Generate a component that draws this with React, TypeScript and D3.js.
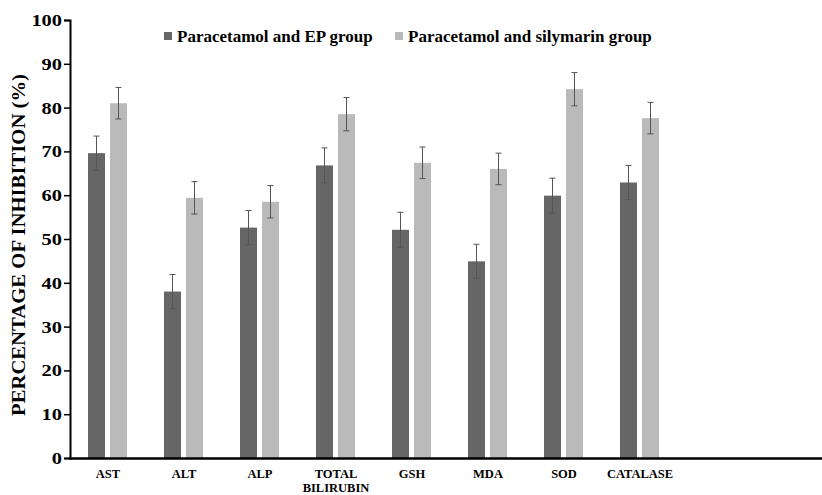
import * as d3 from "d3";
import { useRef, useEffect } from "react";

const categories = ["AST", "ALT", "ALP", "TOTAL BILIRUBIN", "GSH", "MDA", "SOD", "CATALASE"];
const epGroup = [69.6, 38.0, 52.6, 66.8, 52.1, 44.9, 59.9, 62.9];
const epErr = [3.9, 3.9, 3.9, 4.0, 4.0, 3.9, 4.0, 3.9];
const silyGroup = [81.0, 59.4, 58.5, 78.5, 67.4, 66.0, 84.2, 77.6];
const silyErr = [3.6, 3.7, 3.7, 3.8, 3.6, 3.6, 3.8, 3.6];
const seriesNames = ["Paracetamol and EP group", "Paracetamol and silymarin group"];
const yTicks = [0, 10, 20, 30, 40, 50, 60, 70, 80, 90, 100];

const W = 822, H = 495;
const colors = ["#666666", "#bababa"];
const font = "'Liberation Serif', 'Times New Roman', serif";

export default function App() {
  const ref = useRef(null);

  useEffect(() => {
    const svg = d3.select(ref.current);
    svg.selectAll("*").remove();

    const left = 70, top = 20, bottom = 458;
    const x = d3.scaleBand().domain(categories).range([left, left + 76 * 8]);
    const y = d3.scaleLinear().domain([0, 100]).range([bottom, top]);

    // y axis
    const ya = svg.append("g").attr("transform", `translate(${left},0)`)
      .call(d3.axisLeft(y).tickValues(yTicks).tickSize(6).tickPadding(3));
    ya.select(".domain").attr("stroke", "#000").attr("stroke-width", 2);
    ya.selectAll(".tick line").attr("stroke", "#000").attr("stroke-width", 1.5);
    ya.selectAll(".tick text")
      .attr("x", 0)
      .attr("transform", "translate(-8,0) scale(1.2,1)")
      .attr("font-family", font).attr("font-weight", "bold")
      .attr("font-size", 17).attr("fill", "#000");

    svg.append("text")
      .attr("transform", `translate(25,${245}) rotate(-90)`)
      .attr("text-anchor", "middle")
      .attr("textLength", 342).attr("lengthAdjust", "spacingAndGlyphs")
      .attr("font-family", font).attr("font-weight", "bold").attr("font-size", 18)
      .text("PERCENTAGE OF INHIBITION (%)");

    const rows = categories.map((c, i) => ({
      c,
      vals: [
        { v: epGroup[i], e: epErr[i], k: 0 },
        { v: silyGroup[i], e: silyErr[i], k: 1 },
      ],
    }));

    const barW = 17;
    const off = [-20, 2];

    const g = svg.append("g").selectAll("g").data(rows).join("g")
      .attr("transform", d => `translate(${x(d.c) + x.bandwidth() / 2},0)`);

    g.selectAll("rect").data(d => d.vals).join("rect")
      .attr("x", d => off[d.k])
      .attr("y", d => y(d.v))
      .attr("width", barW)
      .attr("height", d => y(0) - y(d.v))
      .attr("fill", d => colors[d.k]);

    const eb = g.selectAll("g.err").data(d => d.vals).join("g").attr("class", "err")
      .attr("stroke", "#555").attr("stroke-width", 1);
    eb.append("line")
      .attr("x1", d => off[d.k] + barW / 2).attr("x2", d => off[d.k] + barW / 2)
      .attr("y1", d => y(d.v + d.e)).attr("y2", d => y(d.v - d.e));
    eb.append("line")
      .attr("x1", d => off[d.k] + barW / 2 - 3).attr("x2", d => off[d.k] + barW / 2 + 3)
      .attr("y1", d => y(d.v + d.e)).attr("y2", d => y(d.v + d.e));
    eb.append("line")
      .attr("x1", d => off[d.k] + barW / 2 - 3).attr("x2", d => off[d.k] + barW / 2 + 3)
      .attr("y1", d => y(d.v - d.e)).attr("y2", d => y(d.v - d.e));

    // x axis line
    svg.append("line")
      .attr("x1", left - 1).attr("x2", 822)
      .attr("y1", bottom + 0.5).attr("y2", bottom + 0.5)
      .attr("stroke", "#000").attr("stroke-width", 2.5);

    // x labels
    svg.append("g").selectAll("text").data(categories).join("text")
      .attr("x", d => x(d) + x.bandwidth() / 2)
      .attr("y", 478)
      .attr("text-anchor", "middle")
      .attr("font-family", font).attr("font-weight", "bold").attr("font-size", 12.5)
      .each(function (d) {
        const words = d === "TOTAL BILIRUBIN" ? ["TOTAL", "BILIRUBIN"] : [d];
        d3.select(this).selectAll("tspan").data(words).join("tspan")
          .attr("x", x(d) + x.bandwidth() / 2)
          .attr("dy", (w, i) => (i === 0 ? 0 : 14))
          .text(w => w);
      });

    // legend
    const lx = [164, 395];
    const lg = svg.append("g").selectAll("g").data(seriesNames).join("g")
      .attr("transform", (d, i) => `translate(${lx[i]},0)`);
    lg.append("rect").attr("x", 0).attr("y", 32).attr("width", 8).attr("height", 8)
      .attr("fill", (d, i) => colors[i]);
    lg.append("text").attr("x", 13).attr("y", 42)
      .attr("font-family", font).attr("font-weight", "bold").attr("font-size", 17)
      .text(d => d);
  }, []);

  return (
    <svg ref={ref} width={W} height={H}
      style={{ position: "absolute", left: 0, top: 0, background: "#fff" }} />
  );
}
